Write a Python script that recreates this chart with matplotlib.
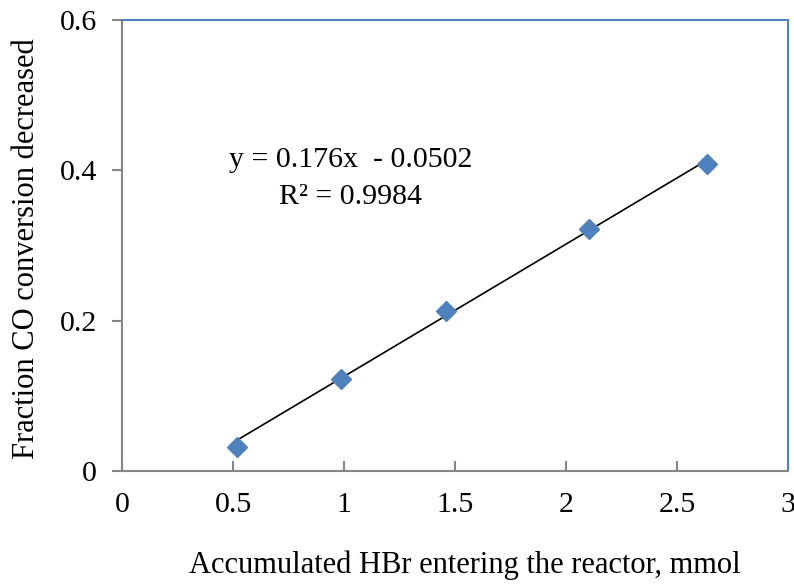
import matplotlib
matplotlib.use("Agg")
import matplotlib.pyplot as plt
import numpy as np

# data
hbr_mmol = [0.52, 0.985, 1.46, 2.105, 2.635]
co_frac = [0.032, 0.123, 0.213, 0.322, 0.408]
slope = 0.176
intercept = -0.0502
x_ticks = [0, 0.5, 1, 1.5, 2, 2.5, 3]
x_ticklabels = ["0", "0.5", "1", "1.5", "2", "2.5", "3"]
y_ticks = [0, 0.2, 0.4, 0.6]
y_ticklabels = ["0", "0.2", "0.4", "0.6"]

plt.rcParams['font.family'] = ['Liberation Serif', 'DejaVu Serif']

fig = plt.figure(figsize=(7.94, 5.84), dpi=100)
ax = fig.add_axes([0.1537, 0.1935, 0.8387, 0.7723])

# trendline over the data range
xl = np.array([min(hbr_mmol), max(hbr_mmol)])
ax.plot(xl, slope * xl + intercept, color='black', lw=1.2, zorder=2)
ax.plot(hbr_mmol, co_frac, linestyle='none', marker='D', ms=10,
        color='#4F81BD', zorder=3)

ax.set_xlim(0, 3)
ax.set_ylim(0, 0.6)
ax.set_xticks(x_ticks)
ax.set_xticklabels(x_ticklabels)
ax.set_yticks(y_ticks)
ax.set_yticklabels(y_ticklabels)
ax.tick_params(axis='x', direction='in', length=7, width=1.5, color='#868686',
               labelsize=21.5, pad=15)
ax.tick_params(axis='y', direction='out', length=7, width=1.5, color='#868686',
               labelsize=21.5, pad=11)

for side in ['left', 'bottom']:
    ax.spines[side].set_color('#868686')
    ax.spines[side].set_linewidth(1.5)
for side in ['top', 'right']:
    ax.spines[side].set_color('#4F81BD')
    ax.spines[side].set_linewidth(1.5)

ax.text(1.03, 0.414, "y = 0.176x  - 0.0502", fontsize=21.5, ha='center', va='center')
ax.text(1.03, 0.364, "R² = 0.9984", fontsize=21.5, ha='center', va='center')

ax.set_xlabel("Accumulated HBr entering the reactor, mmol", fontsize=22)
ax.set_ylabel("Fraction CO conversion decreased", fontsize=22)
ax.xaxis.set_label_coords(0.515, -0.177)
ax.yaxis.set_label_coords(-0.122, 0.492)

fig.savefig("out.png", dpi=100)
